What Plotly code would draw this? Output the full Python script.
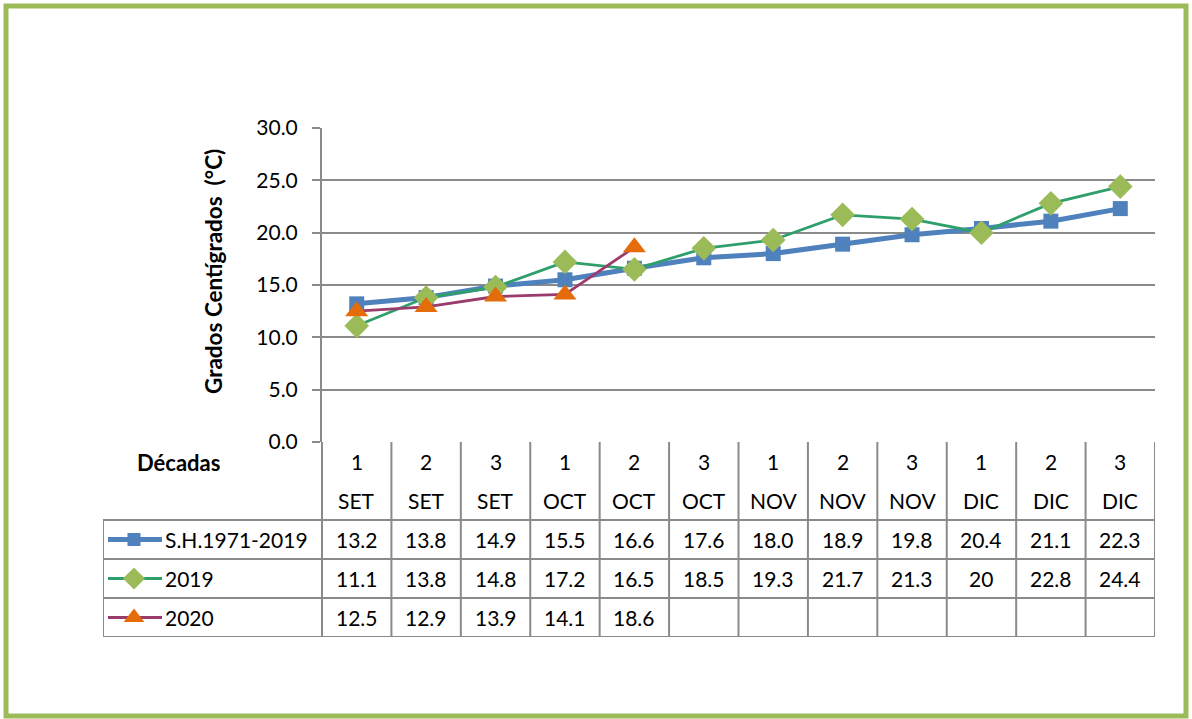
import plotly.graph_objects as go

# ---------------- data ----------------
decadas = ["1", "2", "3", "1", "2", "3", "1", "2", "3", "1", "2", "3"]
meses = ["SET", "SET", "SET", "OCT", "OCT", "OCT", "NOV", "NOV", "NOV", "DIC", "DIC", "DIC"]
series_names = ["S.H.1971-2019", "2019", "2020"]
sh_1971_2019 = [13.2, 13.8, 14.9, 15.5, 16.6, 17.6, 18.0, 18.9, 19.8, 20.4, 21.1, 22.3]
y2019 = [11.1, 13.8, 14.8, 17.2, 16.5, 18.5, 19.3, 21.7, 21.3, 20, 22.8, 24.4]
y2020 = [12.5, 12.9, 13.9, 14.1, 18.6, None, None, None, None, None, None, None]
table_text = {
    "S.H.1971-2019": ["13.2", "13.8", "14.9", "15.5", "16.6", "17.6", "18.0", "18.9", "19.8", "20.4", "21.1", "22.3"],
    "2019": ["11.1", "13.8", "14.8", "17.2", "16.5", "18.5", "19.3", "21.7", "21.3", "20", "22.8", "24.4"],
    "2020": ["12.5", "12.9", "13.9", "14.1", "18.6", "", "", "", "", "", "", ""],
}
y_ticks = [0, 5, 10, 15, 20, 25, 30]

# ---------------- layout constants ----------------
W, H = 1192, 719
FONT = "Lato"
FS = 21
GRID = "#8a8a8a"
plot_l, plot_r, plot_t, plot_b = 322, 1155, 128, 442
table_l, table_b = 103, 637
ncol = len(decadas)
colw = (plot_r - plot_l) / ncol
x2_left = -0.5 - (plot_l - table_l) / colw

styles = {
    "S.H.1971-2019": dict(line=dict(color="#4F81BD", width=5),
                          marker=dict(symbol="square", size=15, color="#4F81BD")),
    "2019": dict(line=dict(color="#2E9F6B", width=2.8),
                 marker=dict(symbol="diamond", size=19, color="#9BBB59")),
    "2020": dict(line=dict(color="#9B3B6C", width=2.8),
                 marker=dict(symbol="triangle-up", size=20, color="#E46C0A")),
}
values = {"S.H.1971-2019": sh_1971_2019, "2019": y2019, "2020": y2020}

xs = list(range(ncol))
fig = go.Figure()
for name in series_names:
    st = styles[name]
    fig.add_trace(go.Scatter(x=xs, y=values[name], mode="lines+markers", name=name,
                             line=st["line"], marker=st["marker"], cliponaxis=False,
                             showlegend=False, connectgaps=False))

# legend keys in the table (x2/y2 coordinates: rows 2,3,4 -> centers 2.5,3.5,4.5)
key_x0 = x2_left + (108 - table_l) / colw
key_x1 = x2_left + (162 - table_l) / colw
key_xm = x2_left + (134 - table_l) / colw
for i, name in enumerate(series_names):
    st = styles[name]
    yc = 2.5 + i
    fig.add_trace(go.Scatter(x=[key_x0, key_x1], y=[yc, yc], mode="lines", line=st["line"],
                             xaxis="x2", yaxis="y2", showlegend=False, hoverinfo="skip"))
    mk = dict(st["marker"])
    mk["size"] = mk["size"] - 2
    fig.add_trace(go.Scatter(x=[key_xm], y=[yc], mode="markers", marker=mk,
                             xaxis="x2", yaxis="y2", showlegend=False, hoverinfo="skip",
                             cliponaxis=False))

shapes = []
ln = dict(color=GRID, width=2)
for k in range(ncol + 1):
    shapes.append(dict(type="line", xref="x2", yref="y2", x0=k - 0.5, x1=k - 0.5, y0=0, y1=5, line=ln))
shapes.append(dict(type="line", xref="x2", yref="y2", x0=x2_left, x1=x2_left, y0=2, y1=5, line=ln))
for r in [2, 3, 4, 5]:
    shapes.append(dict(type="line", xref="x2", yref="y2", x0=x2_left, x1=ncol - 0.5, y0=r, y1=r, line=ln))
# outer green border
shapes.append(dict(type="rect", xref="paper", yref="paper",
                   x0=6 / W, x1=(W - 6) / W, y0=3 / H, y1=1 - 6 / H,
                   line=dict(color="#9BBB59", width=5)))

ann = []
for k in range(ncol):
    ann.append(dict(x=k, y=0.5, xref="x2", yref="y2", text=decadas[k], showarrow=False,
                    font=dict(family=FONT, size=FS, color="black")))
    ann.append(dict(x=k, y=1.5, xref="x2", yref="y2", text=meses[k], showarrow=False,
                    font=dict(family=FONT, size=FS, color="black")))
    for i, name in enumerate(series_names):
        ann.append(dict(x=k, y=2.5 + i, xref="x2", yref="y2", text=table_text[name][k],
                        showarrow=False, font=dict(family=FONT, size=FS, color="black")))
for i, name in enumerate(series_names):
    ann.append(dict(x=x2_left + (163 - table_l) / colw, y=2.5 + i, xref="x2", yref="y2",
                    text=name, showarrow=False, xanchor="left",
                    font=dict(family=FONT, size=FS, color="black")))
ann.append(dict(x=178 / W, y=1 - 462 / H, xref="paper", yref="paper", text="<b>Décadas</b>",
                xanchor="center", yanchor="middle",
                showarrow=False, font=dict(family=FONT, size=22, color="black")))
ann.append(dict(x=213 / W, y=1 - 272 / H, xref="paper", yref="paper",
                xanchor="center", yanchor="middle",
                text="<b>Grados Centígrados  (°C)</b>", textangle=-90, showarrow=False,
                font=dict(family=FONT, size=22.5, color="black")))

fig.update_layout(
    width=W, height=H, margin=dict(l=0, r=0, t=0, b=0, autoexpand=False),
    paper_bgcolor="white", plot_bgcolor="white",
    font=dict(family=FONT, size=FS, color="black"),
    xaxis=dict(domain=[plot_l / W, plot_r / W], range=[-0.5, ncol - 0.5], showgrid=False,
               showticklabels=False, zeroline=False, showline=False, fixedrange=True,
               automargin=False),
    yaxis=dict(domain=[1 - plot_b / H, 1 - plot_t / H], range=[0, 30], tickvals=y_ticks,
               tickformat=".1f", showgrid=True, gridcolor=GRID, gridwidth=1.5,
               zeroline=False, showline=True, linecolor=GRID, linewidth=2,
               ticks="outside", ticklen=8, tickcolor=GRID, tickwidth=1.5,
               ticklabelstandoff=10, automargin=False,
               tickfont=dict(family=FONT, size=FS), fixedrange=True),
    xaxis2=dict(domain=[table_l / W, plot_r / W], range=[x2_left, ncol - 0.5], visible=False,
                anchor="y2", fixedrange=True, automargin=False),
    yaxis2=dict(domain=[1 - table_b / H, 1 - plot_b / H], range=[5, 0], visible=False,
                anchor="x2", fixedrange=True, automargin=False),
    shapes=shapes, annotations=ann,
)
fig.write_html("out.html", config={"displayModeBar": False},
               post_script="document.body.style.margin='0';document.body.style.overflow='hidden';")
